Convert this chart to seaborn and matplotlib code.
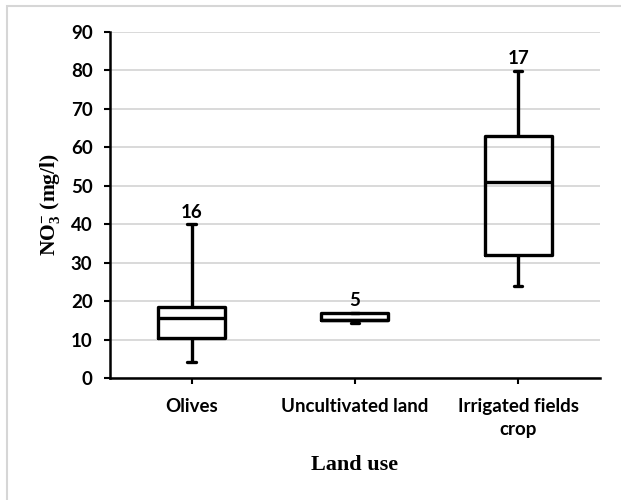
import numpy as np
import pandas as pd
import matplotlib
matplotlib.use("Agg")
import matplotlib.pyplot as plt
from matplotlib.patches import Rectangle
import seaborn as sns

# Land-use classes and NO3- summaries (min, Q1, median, Q3, max) in mg/l
categories = ["Olives", "Uncultivated land", "Irrigated fields\ncrop"]
olives = [4.1, 10.4, 15.7, 18.5, 40.0]
uncultivated = [14.2, 15.0, 15.0, 17.0, 17.0]
irrigated = [23.9, 31.9, 50.9, 63.0, 79.9]
sample_counts = [16, 5, 17]
y_ticks = [0, 10, 20, 30, 40, 50, 60, 70, 80, 90]

df = pd.DataFrame({
    "land_use": np.repeat(categories, 5),
    "no3": olives + uncultivated + irrigated,
})

sns.set_theme(style="white")
plt.rcParams["font.family"] = ["Lato", "DejaVu Sans"]
plt.rcParams["mathtext.fontset"] = "custom"
plt.rcParams["mathtext.rm"] = "Liberation Serif:bold"
plt.rcParams["mathtext.it"] = "Liberation Serif:bold"
plt.rcParams["mathtext.bf"] = "Liberation Serif:bold"

fig = plt.figure(figsize=(6.21, 5.0), dpi=100)
ax = fig.add_axes([0.177, 0.244, 0.789, 0.692])

# whiskers span the full range, boxes span the quartiles
sns.boxplot(
    data=df, x="land_use", y="no3", order=categories, ax=ax,
    whis=(0, 100), width=0.41, fill=False, color="black",
    linecolor="black", linewidth=2.4, capwidths=0.05, showfliers=False,
)

ax.set_xlim(-0.5, 2.5)
ax.set_ylim(0, 90)
ax.set_yticks(y_ticks)
ax.yaxis.grid(True, color="#d9d9d9", linewidth=1.4)
ax.set_axisbelow(True)

for side in ["top", "right"]:
    ax.spines[side].set_visible(False)
for side in ["left", "bottom"]:
    ax.spines[side].set_color("black")
    ax.spines[side].set_linewidth(1.8)

ax.tick_params(axis="y", which="major", left=True, length=4.5, width=1.5,
               color="black", pad=8, labelsize=13.5)
ax.tick_params(axis="x", which="major", bottom=True, length=4.5, width=1.5,
               color="black", pad=10, labelsize=13.5)
for lab in ax.get_xticklabels() + ax.get_yticklabels():
    lab.set_fontweight("bold")
    lab.set_color("black")
for lab in ax.get_xticklabels():
    lab.set_linespacing(1.45)

ax.set_xlabel("Land use", family="Liberation Serif", fontweight="bold",
              fontsize=16, color="black", labelpad=12)
ax.set_ylabel(r"NO$_3^{\mathbf{-}}$ (mg/l)", family="Liberation Serif",
              fontweight="bold", fontsize=15.5, color="black", labelpad=6)

# number of samples above each upper whisker
for i, (vals, n) in enumerate(zip([olives, uncultivated, irrigated], sample_counts)):
    ax.annotate(str(n), xy=(i, max(vals)), xytext=(0, 2.5),
                textcoords="offset points", ha="center", va="bottom",
                fontsize=13.5, fontweight="bold", color="black")

# light frame around the chart area
fig.patches.append(Rectangle((7 / 621, -0.02), 1.1, 1 - 6 / 500 + 0.02,
                             transform=fig.transFigure, fill=False,
                             edgecolor="#d6d6d6", linewidth=1.5))

fig.savefig("out.png", dpi=100, facecolor="white")
